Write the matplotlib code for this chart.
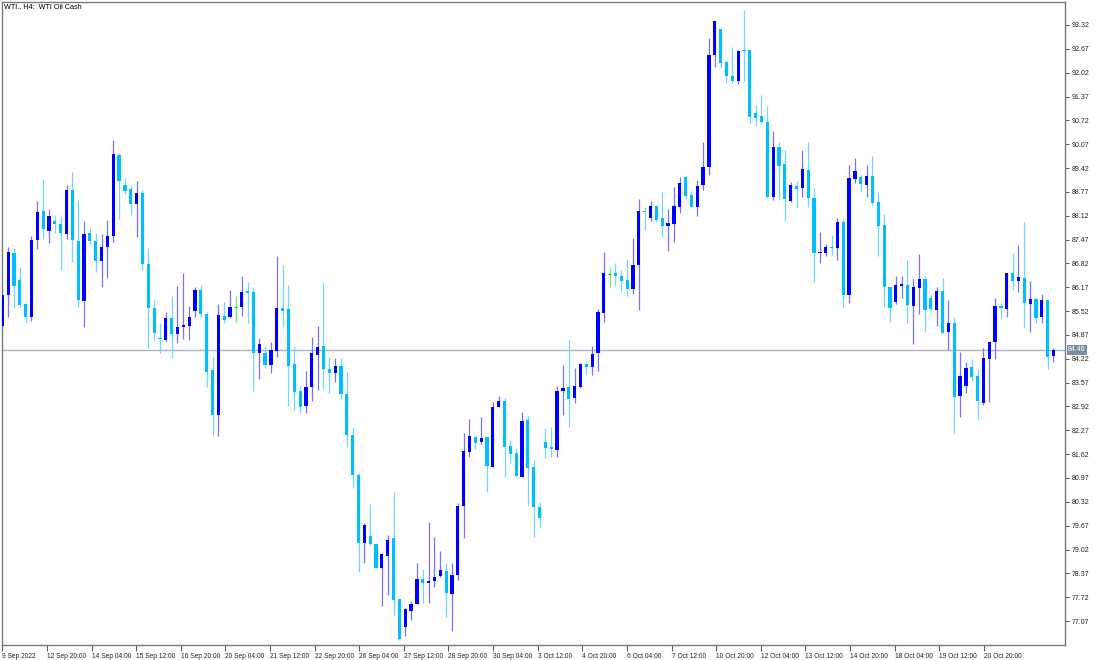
import numpy as np
import matplotlib.pyplot as plt
import matplotlib.transforms as mtransforms

# WTI H4 candles (oldest first)
opens = [85.11, 85.96, 87.10, 86.37, 85.71, 85.37, 87.45, 88.25, 87.70, 87.98,
         87.89, 87.63, 88.82, 87.44, 85.80, 87.64, 87.42, 86.89, 87.28, 87.57,
         89.78, 88.96, 88.84, 88.43, 88.75, 86.80, 85.60, 84.77, 84.73, 85.32,
         84.89, 85.08, 85.12, 85.53, 86.09, 85.43, 83.91, 82.69, 85.39, 85.35,
         85.62, 85.62, 86.06, 86.04, 84.39, 84.37, 84.05, 84.44, 85.60, 85.57,
         84.07, 83.34, 82.93, 83.46, 84.32, 84.57, 83.93, 83.84, 84.02, 83.25,
         82.14, 81.05, 79.19, 79.39, 79.17, 78.52, 78.85, 79.33, 77.66, 76.92,
         77.35, 77.53, 78.21, 78.11, 78.16, 78.31, 78.44, 77.81, 78.33, 80.21,
         81.69, 82.10, 81.94, 82.08, 81.28, 82.90, 83.07, 81.85, 81.64, 81.01,
         82.55, 81.26, 80.19, 81.96, 81.81, 81.73, 83.33, 83.44, 83.14, 83.46,
         84.08, 84.00, 84.37, 85.46, 86.52, 86.57, 86.48, 86.37, 86.13, 86.78,
         88.23, 88.05, 88.39, 88.05, 87.84, 87.90, 88.35, 89.17, 88.69, 88.37,
         88.96, 89.44, 92.50, 93.20, 92.31, 91.93, 91.79, 92.64, 92.64, 90.91,
         90.84, 90.68, 88.64, 90.00, 89.53, 88.53, 88.94, 88.87, 89.37, 88.60,
         87.10, 87.10, 87.28, 87.25, 87.96, 85.96, 89.11, 89.18, 88.96, 89.20,
         88.50, 87.87, 86.19, 85.78, 86.21, 86.23, 85.66, 86.14, 86.39, 85.87,
         85.55, 86.08, 84.96, 85.20, 83.21, 83.48, 84.00, 83.76, 83.01, 84.21,
         84.69, 85.67, 85.57, 86.55, 86.34, 86.43, 85.71, 85.84, 85.37, 85.82,
         84.30]
highs = [86.00, 87.26, 87.25, 86.71, 85.74, 87.57, 88.52, 89.12, 88.30, 88.11,
         88.11, 88.96, 89.30, 88.55, 87.98, 87.82, 87.64, 87.61, 88.00, 90.18,
         89.82, 89.14, 88.96, 89.08, 88.82, 87.23, 85.82, 85.19, 85.50, 85.93,
         86.21, 86.57, 85.66, 86.19, 86.23, 85.50, 84.28, 85.71, 85.78, 86.10,
         85.93, 86.48, 86.30, 86.19, 84.78, 84.53, 84.69, 87.02, 86.78, 86.23,
         84.57, 83.48, 83.89, 84.82, 85.11, 86.31, 84.26, 84.23, 84.25, 83.85,
         82.37, 81.10, 79.75, 80.25, 79.17, 78.92, 79.42, 80.59, 77.66, 77.42,
         77.62, 78.66, 78.48, 79.77, 79.37, 78.99, 78.64, 78.64, 80.30, 82.21,
         82.58, 82.10, 82.62, 82.08, 83.03, 83.21, 83.14, 82.01, 81.78, 82.77,
         82.67, 81.46, 80.31, 82.32, 82.35, 83.49, 84.05, 84.75, 83.98, 84.11,
         84.16, 84.58, 85.57, 87.12, 86.71, 86.82, 86.64, 86.94, 87.50, 88.57,
         88.37, 88.52, 88.39, 88.77, 88.30, 88.90, 89.18, 89.20, 88.79, 89.09,
         90.12, 92.96, 93.43, 93.20, 92.37, 92.73, 92.64, 93.73, 92.64, 91.14,
         91.41, 91.11, 90.43, 90.14, 89.91, 89.05, 89.07, 89.91, 90.12, 88.87,
         87.68, 87.35, 87.60, 88.05, 88.05, 89.50, 89.70, 89.23, 89.50, 89.75,
         88.78, 88.17, 86.19, 86.48, 86.48, 86.91, 86.39, 87.08, 86.48, 85.96,
         86.19, 86.41, 85.82, 85.35, 84.40, 84.14, 84.21, 83.93, 84.51, 84.69,
         85.87, 85.73, 86.57, 87.10, 87.32, 87.94, 86.34, 85.87, 85.99, 85.82,
         84.51]
lows = [85.05, 85.35, 85.60, 85.64, 85.19, 85.26, 87.21, 87.48, 87.39, 87.66,
        86.64, 87.48, 86.85, 85.64, 85.09, 87.32, 86.58, 86.18, 86.41, 87.41,
        88.02, 88.71, 88.14, 87.55, 86.64, 84.51, 84.71, 84.39, 84.71, 84.25,
        84.64, 84.75, 84.73, 85.35, 85.37, 83.46, 82.11, 82.11, 85.19, 85.32,
        85.23, 85.39, 85.19, 83.35, 83.66, 83.96, 83.82, 84.28, 85.08, 82.94,
        82.82, 82.75, 82.73, 83.08, 83.37, 83.39, 83.30, 83.60, 83.12, 81.82,
        80.69, 78.42, 78.64, 79.14, 78.51, 77.49, 77.78, 77.23, 76.56, 76.66,
        77.10, 77.53, 77.55, 77.57, 78.01, 78.28, 77.17, 76.81, 78.19, 79.34,
        81.53, 81.75, 81.91, 80.58, 81.28, 82.90, 81.01, 81.37, 80.99, 80.99,
        80.21, 79.37, 79.63, 81.51, 81.55, 81.55, 82.69, 82.37, 83.01, 83.42,
        83.78, 83.78, 83.89, 85.21, 86.19, 86.23, 86.05, 85.93, 85.99, 85.55,
        87.73, 87.99, 87.96, 87.53, 87.17, 87.41, 88.20, 88.57, 88.35, 88.11,
        88.82, 89.23, 92.18, 92.14, 91.73, 91.73, 91.70, 91.77, 90.62, 90.57,
        90.62, 88.60, 88.55, 88.55, 87.98, 88.49, 88.32, 88.64, 88.35, 86.32,
        86.84, 87.03, 87.05, 86.91, 85.60, 85.75, 89.00, 88.78, 88.64, 88.41,
        87.02, 85.64, 85.23, 85.71, 85.87, 85.19, 84.62, 85.44, 84.99, 85.50,
        85.11, 84.91, 84.46, 82.20, 82.64, 83.30, 83.62, 82.57, 82.96, 83.05,
        84.21, 85.30, 85.37, 86.09, 86.05, 85.07, 84.96, 85.19, 85.20, 83.93,
        84.14]
closes = [85.96, 87.12, 86.21, 85.69, 85.37, 87.45, 88.23, 87.75, 88.10, 87.90,
          87.66, 88.82, 87.45, 85.81, 87.61, 87.42, 86.89, 87.28, 87.58, 89.80,
          89.08, 88.80, 88.44, 88.73, 86.80, 85.60, 84.91, 84.75, 85.32, 84.89,
          85.08, 85.14, 85.36, 86.10, 85.44, 83.87, 82.69, 85.41, 85.28, 85.62,
          85.62, 86.04, 86.02, 84.39, 84.62, 84.05, 84.46, 85.60, 85.53, 84.02,
          83.32, 82.91, 83.46, 84.37, 84.55, 83.93, 83.84, 84.02, 83.25, 82.14,
          81.05, 79.19, 79.69, 79.17, 78.52, 78.90, 79.28, 77.64, 76.57, 77.39,
          77.53, 78.22, 78.12, 78.15, 78.28, 78.46, 77.83, 78.33, 80.21, 81.71,
          82.12, 81.93, 82.06, 81.31, 82.91, 83.08, 81.82, 81.62, 81.02, 82.52,
          81.23, 80.19, 79.89, 81.80, 81.75, 83.34, 83.42, 83.12, 83.48, 84.08,
          84.00, 84.35, 85.50, 86.55, 86.52, 86.48, 86.35, 86.13, 86.78, 88.24,
          88.21, 88.39, 88.00, 87.85, 87.91, 88.39, 89.02, 88.67, 88.37, 88.94,
          89.44, 92.50, 93.43, 92.29, 91.93, 91.79, 92.61, 92.61, 90.82, 90.79,
          90.68, 88.64, 90.00, 89.48, 88.57, 88.96, 88.85, 89.39, 88.60, 87.11,
          87.14, 87.28, 87.25, 87.96, 85.96, 89.14, 89.35, 88.98, 89.20, 88.48,
          87.84, 86.19, 85.61, 86.23, 86.25, 85.69, 86.17, 86.39, 85.55, 85.57,
          86.08, 84.93, 85.20, 83.19, 83.76, 83.98, 83.73, 83.08, 84.23, 84.69,
          85.67, 85.60, 86.57, 86.34, 86.46, 85.73, 85.84, 85.32, 85.82, 84.28,
          84.46]

xlabels = ['9 Sep 2022', '12 Sep 20:00', '14 Sep 04:00', '15 Sep 12:00', '16 Sep 20:00',
           '20 Sep 04:00', '21 Sep 12:00', '22 Sep 20:00', '26 Sep 04:00', '27 Sep 12:00',
           '28 Sep 20:00', '30 Sep 04:00', '3 Oct 12:00', '4 Oct 20:00', '6 Oct 04:00',
           '7 Oct 12:00', '10 Oct 20:00', '12 Oct 04:00', '13 Oct 12:00', '14 Oct 20:00',
           '18 Oct 04:00', '19 Oct 12:00', '20 Oct 20:00']
yticks = [77.07, 77.72, 78.37, 79.02, 79.67, 80.32, 80.97, 81.62, 82.27, 82.92,
          83.57, 84.22, 84.87, 85.52, 86.17, 86.82, 87.47, 88.12, 88.77, 89.42,
          90.07, 90.72, 91.37, 92.02, 92.67, 93.32]
last_price = 84.46

o = np.array(opens)
h = np.array(highs)
l = np.array(lows)
c = np.array(closes)
x = np.arange(len(o))
up = c > o
down = c < o
flat = c == o

fig = plt.figure(figsize=(11, 6.6), dpi=100)
ax = fig.add_axes([2 / 1100, 15 / 660, 1063 / 1100, 643 / 660])

body_w = 0.55
min_h = 0.03

ax.axhline(last_price, color='#a9b3c2', lw=1, zorder=1)

ax.vlines(x[up], l[up], h[up], color='#7474ff', lw=0.9, zorder=2)
ax.vlines(x[down], l[down], h[down], color='#70d8ff', lw=0.9, zorder=2)
ax.vlines(x[flat], l[flat], h[flat], color='#77ee77', lw=0.9, zorder=2)

ax.bar(x[up], np.maximum(c[up] - o[up], min_h), bottom=o[up], width=body_w,
       color='#0000ff', lw=0, zorder=3)
ax.bar(x[down], np.maximum(o[down] - c[down], min_h), bottom=c[down], width=body_w,
       color='#00bfff', lw=0, zorder=3)
ax.hlines(o[flat], x[flat] - body_w / 2, x[flat] + body_w / 2, color='#00dd00', lw=0.9, zorder=3)

ax.set_xlim(-0.05, 181.97)
ax.set_ylim(76.417, 93.947)

ax.yaxis.tick_right()
ax.set_yticks(yticks)
ax.set_yticklabels([f'{v:.2f}' for v in yticks])
ax.tick_params(axis='y', direction='out', length=3, width=0.8, pad=2,
               labelsize=5, color='#606060', labelcolor='#222222')

ax.set_xticks(np.arange(len(xlabels)) * 7.64)
ax.set_xticklabels(xlabels, ha='left')
ax.tick_params(axis='x', direction='out', length=4, width=0.8, pad=1.5,
               labelsize=4.8, color='#606060', labelcolor='#222222')

for s in ax.spines.values():
    s.set_color('#7a7a7a')
    s.set_linewidth(1)

for t in ax.get_xticklabels() + ax.get_yticklabels():
    t.set_family(['Liberation Sans', 'DejaVu Sans'])

trans = mtransforms.blended_transform_factory(ax.transAxes, ax.transData)
ax.text(1.003, last_price, f'{last_price:.2f}', transform=trans, fontsize=5,
        family=['Liberation Sans', 'DejaVu Sans'], color='white', va='center', ha='left',
        bbox=dict(boxstyle='square,pad=0.2', fc='#7b8da5', ec='none'))

fig.text(4 / 1100, 1 - 7 / 660, 'WTI., H4:  WTI Oil Cash', fontsize=5.2,
         family=['Liberation Sans', 'DejaVu Sans'], va='center', ha='left')

fig.savefig('out.png', dpi=100)
